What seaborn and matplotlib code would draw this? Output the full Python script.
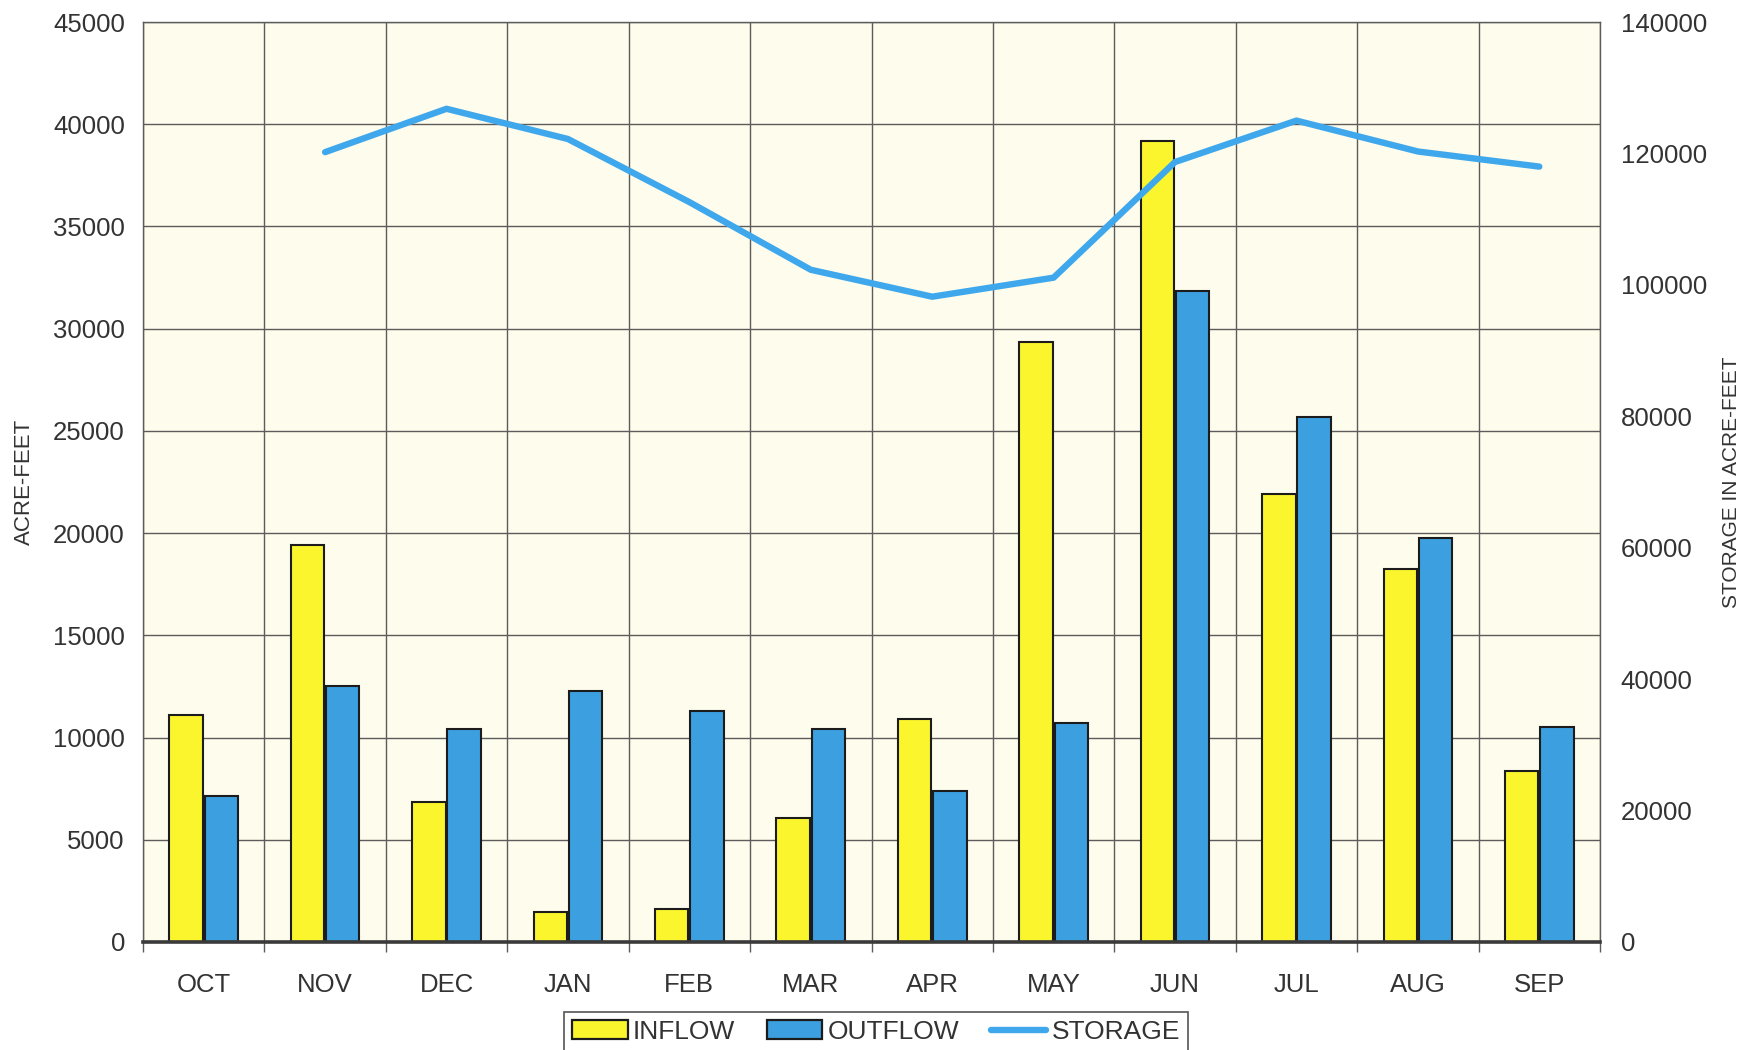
import numpy as np
import pandas as pd
import matplotlib
matplotlib.use("Agg")
import matplotlib.pyplot as plt
from matplotlib.patches import Patch
from matplotlib.lines import Line2D
from matplotlib.ticker import MultipleLocator, StrMethodFormatter
import seaborn as sns

# Monthly reservoir operations (acre-feet)
months = ["OCT", "NOV", "DEC", "JAN", "FEB", "MAR", "APR", "MAY", "JUN", "JUL", "AUG", "SEP"]
inflow = [11100, 19400, 6850, 1450, 1600, 6050, 10900, 29350, 39200, 21900, 18250, 8350]
outflow = [7150, 12500, 10400, 12300, 11300, 10400, 7400, 10700, 31850, 25700, 19750, 10500]

# End-of-month storage, reported from November on
storage_months = ["NOV", "DEC", "JAN", "FEB", "MAR", "APR", "MAY", "JUN", "JUL", "AUG", "SEP"]
storage = [120200, 126800, 122200, 112600, 102300, 98200, 101100, 118700, 125000, 120300, 118000]

YELLOW = "#FAF52C"
BLUE = "#3C9FE0"
LINE = "#3FA8EC"
TEXT = "#333333"
GRID = "#5c5c5c"

sns.set_theme(style="white")
plt.rcParams["font.family"] = ["Liberation Sans", "DejaVu Sans"]

fig = plt.figure(figsize=(17.5, 10.5), dpi=100)
fig.patch.set_facecolor("white")
ax = fig.add_axes([0.0817, 0.1029, 0.8326, 0.8761])
ax.set_facecolor("#FEFCEC")

flows = pd.DataFrame({
    "month": months * 2,
    "value": inflow + outflow,
    "kind": ["INFLOW"] * len(months) + ["OUTFLOW"] * len(months),
})

sns.barplot(
    data=flows, x="month", y="value", hue="kind",
    order=months, hue_order=["INFLOW", "OUTFLOW"],
    palette={"INFLOW": YELLOW, "OUTFLOW": BLUE},
    width=0.58, gap=0.05, saturation=1, errorbar=None, legend=False,
    edgecolor="#1c1c1c", linewidth=1.5, ax=ax, zorder=3,
)

ax.set_xlim(-0.5, len(months) - 0.5)
ax.set_ylim(0, 45000)
ax.yaxis.set_major_locator(MultipleLocator(5000))
ax.yaxis.set_major_formatter(StrMethodFormatter("{x:.0f}"))
ax.set_xticks(np.arange(-0.5, len(months), 1), minor=True)

ax.set_axisbelow(True)
ax.grid(False)
ax.grid(True, which="minor", axis="x", color=GRID, linewidth=1.0)
ax.grid(True, which="major", axis="y", color=GRID, linewidth=1.0)

ax.tick_params(axis="x", which="major", length=0, pad=22, labelsize=18.5, labelcolor=TEXT)
ax.tick_params(axis="x", which="minor", length=7.5, width=1.0, color=GRID, direction="out", bottom=True)
ax.tick_params(axis="y", which="major", length=0, pad=13, labelsize=18.5, labelcolor=TEXT)

ax.set_xlabel("")
ax.set_ylabel("ACRE-FEET", fontsize=16, color=TEXT)
ax.yaxis.set_label_coords(-0.0741, 0.5)

for side, sp in ax.spines.items():
    sp.set_visible(True)
    sp.set_color(GRID)
    sp.set_linewidth(1.0)
ax.spines["bottom"].set_color("#3a3a3a")
ax.spines["bottom"].set_linewidth(2.6)
ax.spines["bottom"].set_zorder(5)

# Storage on a secondary axis
ax2 = ax.twinx()
ax2.patch.set_visible(False)
storage_pos = [months.index(m) for m in storage_months]
sns.lineplot(x=storage_pos, y=storage, ax=ax2, color=LINE, linewidth=4.6,
             solid_capstyle="round", solid_joinstyle="round")
ax2.set_ylim(0, 140000)
ax2.set_xlim(-0.5, len(months) - 0.5)
ax2.yaxis.set_major_locator(MultipleLocator(20000))
ax2.yaxis.set_major_formatter(StrMethodFormatter("{x:.0f}"))
ax2.grid(False)
ax2.tick_params(axis="y", which="major", length=0, pad=15, labelsize=18.5, labelcolor=TEXT)
ax2.set_ylabel("STORAGE IN ACRE-FEET", fontsize=15, color=TEXT)
ax2.yaxis.set_label_coords(1.0838, 0.5)
for sp in ax2.spines.values():
    sp.set_visible(False)

handles = [
    Patch(facecolor=YELLOW, edgecolor="#1c1c1c", linewidth=1.6, label="INFLOW"),
    Patch(facecolor=BLUE, edgecolor="#1c1c1c", linewidth=1.6, label="OUTFLOW"),
    Line2D([], [], color=LINE, linewidth=4.6, label="STORAGE"),
]
leg = fig.legend(
    handles=handles, loc="upper center", bbox_to_anchor=(0.5006, 0.0362),
    bbox_transform=fig.transFigure, ncol=3, frameon=True, fancybox=False,
    edgecolor="#555555", framealpha=1, fontsize=19, labelcolor=TEXT,
    handlelength=2.1, handletextpad=0.2, columnspacing=1.2, borderpad=0.3,
    borderaxespad=0,
)
leg.get_frame().set_linewidth(1.2)

fig.savefig("out.png", dpi=100)
